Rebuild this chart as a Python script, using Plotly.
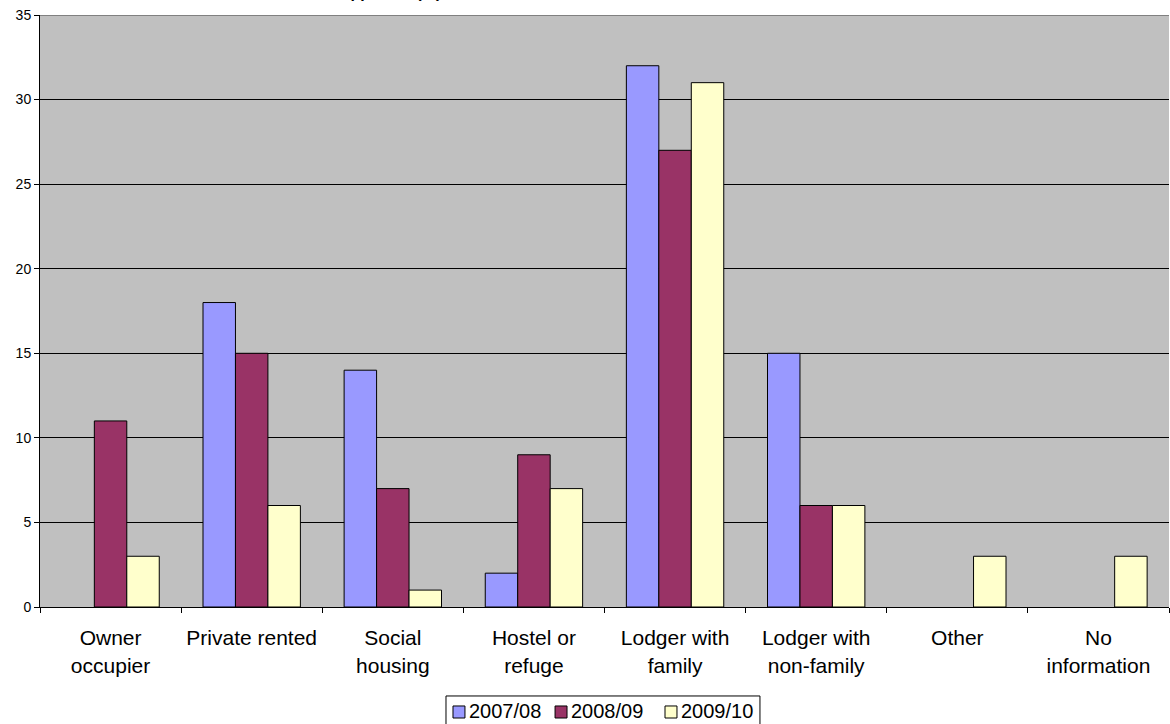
import plotly.graph_objects as go

categories = ["Owner<br>occupier", "Private rented", "Social<br>housing", "Hostel or<br>refuge",
              "Lodger with<br>family", "Lodger with<br>non-family", "Other", "No<br>information"]
s2007 = [None, 18, 14, 2, 32, 15, None, None]
s2008 = [11, 15, 7, 9, 27, 6, None, None]
s2009 = [3, 6, 1, 7, 31, 6, 3, 3]
series_names = ["2007/08", "2008/09", "2009/10"]
colors = ["#9999FF", "#993366", "#FFFFCC"]
y_ticks = [0, 5, 10, 15, 20, 25, 30, 35]

fig = go.Figure()
for name, vals, col in zip(series_names, [s2007, s2008, s2009], colors):
    fig.add_trace(go.Bar(x=categories, y=vals, name=name, showlegend=False,
                         marker=dict(color=col, line=dict(color="black", width=1))))

# Manual legend (compact, Excel-like)
shapes = [
    dict(type="line", xref="paper", yref="y", x0=0, x1=1, y0=35, y1=35,
         line=dict(color="#808080", width=2), layer="above"),
    dict(type="rect", xref="paper", yref="paper", x0=0.3596, x1=0.6377, y0=-0.2162, y1=-0.1503,
         line=dict(color="black", width=1), fillcolor="white"),
]
annotations = []
sq_x = [0.3658, 0.4562, 0.5536]
txt_x = [0.3791, 0.4694, 0.5669]
for name, col, sx, tx in zip(series_names, colors, sq_x, txt_x):
    shapes.append(dict(type="rect", xref="paper", yref="paper", x0=sx, x1=sx + 0.0106,
                       y0=-0.1875, y1=-0.1672, line=dict(color="black", width=1), fillcolor=col))
    annotations.append(dict(text=name, xref="paper", yref="paper", x=tx, xanchor="left",
                            y=-0.1757, yanchor="middle", showarrow=False, font=dict(size=20),
                            borderpad=0))

annotations.append(dict(text="<b>Table 5: Previous tenure of applicant (%)</b>", xref="paper", yref="paper",
                        x=0.0806, xanchor="left", y=1.0203, yanchor="bottom", showarrow=False,
                        font=dict(size=16)))

fig.update_layout(
    width=1170, height=724,
    margin=dict(l=40, r=1, t=15, b=117),
    paper_bgcolor="white", plot_bgcolor="#C0C0C0",
    barmode="group", bargap=0.31, bargroupgap=0,
    font=dict(family="Arial, Liberation Sans, sans-serif", color="black"),
    showlegend=False,
    xaxis=dict(showline=True, linecolor="black", linewidth=1, ticks="outside",
               tickson="boundaries", ticklen=5, tickcolor="black",
               tickfont=dict(size=21), showgrid=False, ticklabelstandoff=12),
    yaxis=dict(range=[0, 35], tickvals=y_ticks, showline=True, linecolor="black",
               linewidth=1, ticks="outside", ticklen=5, tickcolor="black",
               tickfont=dict(size=14), gridcolor="black", gridwidth=1,
               zeroline=False),
    shapes=shapes,
    annotations=annotations,
)

fig.write_html("out.html")
